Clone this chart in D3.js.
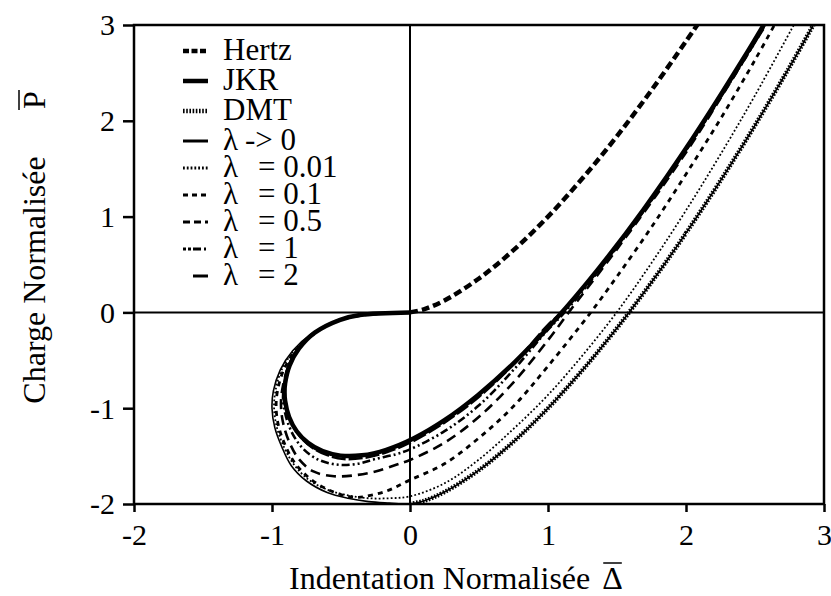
<!DOCTYPE html>
<html>
<head>
<meta charset="utf-8">
<script src="https://cdn.jsdelivr.net/npm/d3@7/dist/d3.min.js"></script>
<style>
  html, body { margin: 0; padding: 0; background: #fff; }
  svg { display: block; }
  svg text { font-family: "Liberation Serif", "DejaVu Serif", "Noto Serif", serif !important; fill: #000; }
</style>
</head>
<body>
<svg id="chart" width="831" height="596"></svg>
<script>
// Normalised indentation (Δ) vs normalised load (P) for contact models.
const xTicks = [-2, -1, 0, 1, 2, 3];
const yTicks = [-2, -1, 0, 1, 2, 3];

const hertz = [[0,0],[0.1,0.032],[0.25,0.125],[0.5,0.354],[0.75,0.65],[1.0,1.0],[1.25,1.40],[1.5,1.84],[1.75,2.32],[2.0,2.83],[2.1,3.04]];

const jkr = [[0,0],[-0.363,-0.027],[-0.506,-0.077],[-0.690,-0.211],[-0.804,-0.376],[-0.873,-0.556],[-0.905,-0.741],
  [-0.909,-0.833],[-0.905,-0.922],[-0.876,-1.092],[-0.821,-1.241],[-0.739,-1.362],[-0.633,-1.449],[-0.503,-1.495],
  [-0.349,-1.492],[-0.172,-1.434],[0.028,-1.314],[0.25,-1.125],[0.494,-0.861],[0.761,-0.516],[1.049,-0.083],
  [1.359,0.444],[1.691,1.072],[2.044,1.807],[2.418,2.655],[2.613,3.123]];

const dmt = [[0,-2],[0.1,-1.968],[0.25,-1.875],[0.5,-1.646],[0.75,-1.35],[1.0,-1.0],[1.25,-0.602],[1.5,-0.163],
  [1.75,0.315],[2.0,0.828],[2.25,1.375],[2.5,1.953],[2.75,2.56],[2.95,3.07]];

const lambda0 = [[0,0],[-0.35,-0.03],[-0.55,-0.10],[-0.72,-0.23],[-0.85,-0.40],[-0.94,-0.60],[-0.99,-0.82],[-1.0,-1.0],
  [-0.98,-1.2],[-0.93,-1.40],[-0.86,-1.60],[-0.75,-1.76],[-0.6,-1.88],[-0.45,-1.94],[-0.3,-1.975],[-0.15,-1.99],[0,-2.0],
  [0.1,-1.968],[0.25,-1.875],[0.5,-1.646],[0.75,-1.35],[1.0,-1.0],[1.25,-0.602],[1.5,-0.163],[1.75,0.315],[2.0,0.828],
  [2.25,1.375],[2.5,1.953],[2.75,2.56],[2.95,3.07]];

const lambda001 = [[0,0],[-0.35,-0.03],[-0.55,-0.10],[-0.71,-0.23],[-0.84,-0.40],[-0.93,-0.60],[-0.975,-0.82],[-0.985,-1.0],
  [-0.965,-1.2],[-0.915,-1.40],[-0.845,-1.58],[-0.74,-1.74],[-0.6,-1.85],[-0.45,-1.91],[-0.3,-1.94],[-0.15,-1.94],[0,-1.92],
  [0.25,-1.784],[0.5,-1.535],[0.75,-1.216],[1.0,-0.862],[1.25,-0.449],[1.5,0.005],[1.75,0.516],[2.0,1.065],[2.25,1.649],
  [2.5,2.265],[2.8,3.05]];

const lambda01 = [[0,0],[-0.35,-0.03],[-0.55,-0.10],[-0.70,-0.23],[-0.83,-0.40],[-0.915,-0.60],[-0.96,-0.82],[-0.97,-1.0],
  [-0.95,-1.2],[-0.90,-1.40],[-0.83,-1.58],[-0.72,-1.74],[-0.58,-1.86],[-0.45,-1.92],[-0.375,-1.93],[-0.18,-1.87],[0,-1.75],
  [0.25,-1.58],[0.5,-1.31],[0.75,-0.98],[1.0,-0.56],[1.31,0],[1.5,0.375],[1.75,0.89],[2.0,1.443],[2.25,2.02],[2.5,2.635],[2.66,3.05]];

const lambda05 = [[0,0],[-0.36,-0.03],[-0.51,-0.08],[-0.69,-0.21],[-0.81,-0.38],[-0.88,-0.56],[-0.92,-0.76],[-0.935,-0.95],
  [-0.92,-1.15],[-0.87,-1.37],[-0.8,-1.54],[-0.7,-1.66],[-0.55,-1.71],[-0.4,-1.70],[-0.25,-1.66],[-0.1,-1.59],[0,-1.54],
  [0.25,-1.36],[0.5,-1.09],[0.75,-0.73],[1.0,-0.29],[1.15,0],[1.5,0.66],[2.0,1.67],[2.5,2.82],[2.6,3.05]];

const lambda1 = [[0,0],[-0.36,-0.03],[-0.51,-0.08],[-0.69,-0.21],[-0.81,-0.38],[-0.88,-0.56],[-0.91,-0.75],[-0.92,-0.90],
  [-0.90,-1.08],[-0.85,-1.27],[-0.77,-1.43],[-0.66,-1.54],[-0.52,-1.59],[-0.38,-1.58],[-0.25,-1.53],[-0.1,-1.48],[0,-1.43],
  [0.25,-1.24],[0.5,-0.97],[0.75,-0.60],[1.0,-0.18],[1.12,0],[1.5,0.68],[2.0,1.69],[2.5,2.82],[2.59,3.05]];

const lambda2 = [[0,0],[-0.36,-0.03],[-0.51,-0.08],[-0.69,-0.21],[-0.81,-0.38],[-0.88,-0.56],[-0.91,-0.75],[-0.915,-0.88],
  [-0.90,-1.0],[-0.86,-1.15],[-0.80,-1.29],[-0.71,-1.41],[-0.6,-1.49],[-0.48,-1.53],[-0.34,-1.52],[-0.17,-1.46],[0,-1.36],
  [0.25,-1.15],[0.5,-0.88],[0.75,-0.54],[1.0,-0.13],[1.1,0.0],[1.5,0.70],[2.0,1.70],[2.5,2.83],[2.59,3.05]];

const legendSymbols = ["Hertz", "JKR", "DMT", "λ", "λ", "λ", "λ", "λ", "λ"];
const legendValues = ["", "", "", "-> 0", "= 0.01", "= 0.1", "= 0.5", "= 1", "= 2"];

// Stroke styles, in the same order as the legend
const styles = [
  { w: 4.5, dash: "8,4" },
  { w: 4.5, dash: null },
  { w: 4.5, dash: "1.6,1.6" },
  { w: 1.6, dash: null },
  { w: 1.8, dash: "1.8,2.2" },
  { w: 2.8, dash: "5,5" },
  { w: 2.6, dash: "10,6" },
  { w: 2.6, dash: "8,3,2,3,2,3" },
  { w: 2.6, dash: "14,3" }
];
const seriesData = [hertz, jkr, dmt, lambda0, lambda001, lambda01, lambda05, lambda1, lambda2];

const svg = d3.select("#chart");
const plotL = 134, plotR = 824, plotT = 25, plotB = 504;

const x = d3.scaleLinear().domain([-2, 3]).range([plotL, plotR]);
const y = d3.scaleLinear().domain([-2, 3]).range([plotB, plotT]);

svg.append("defs").append("clipPath").attr("id", "plotclip")
  .append("rect").attr("x", plotL).attr("y", plotT).attr("width", plotR - plotL).attr("height", plotB - plotT);

// Zero lines
svg.append("line").attr("x1", plotL).attr("x2", plotR).attr("y1", y(0)).attr("y2", y(0))
  .attr("stroke", "#000").attr("stroke-width", 2);
svg.append("line").attr("x1", x(0)).attr("x2", x(0)).attr("y1", plotT).attr("y2", plotB)
  .attr("stroke", "#000").attr("stroke-width", 2);

// Curves
const line = d3.line().x(d => x(d[0])).y(d => y(d[1])).curve(d3.curveCatmullRom.alpha(0.5));
const drawOrder = [3, 4, 5, 6, 7, 8, 2, 1, 0];
const curves = svg.append("g").attr("clip-path", "url(#plotclip)");
drawOrder.forEach(i => {
  curves.append("path").datum(seriesData[i]).attr("d", line)
    .attr("fill", "none").attr("stroke", "#000")
    .attr("stroke-width", styles[i].w)
    .attr("stroke-dasharray", styles[i].dash);
});

// Axes
const fmt = d => d < 0 ? "-" + Math.abs(d) : String(d);
const xAxis = d3.axisBottom(x).tickValues(xTicks).tickSize(8).tickPadding(6).tickFormat(fmt);
const yAxis = d3.axisLeft(y).tickValues(yTicks).tickSize(11).tickPadding(8).tickFormat(fmt);

const gx = svg.append("g").attr("transform", `translate(0,${plotB})`).call(xAxis);
const gy = svg.append("g").attr("transform", `translate(${plotL},0)`).call(yAxis);
[gx, gy].forEach(g => {
  g.attr("font-family", null).attr("font-size", null);
  g.select(".domain").remove();
  g.selectAll(".tick line").attr("stroke", "#000").attr("stroke-width", 2.5);
  g.selectAll(".tick text").style("font-size", "30px").attr("fill", "#000");
});
gx.selectAll(".tick text").attr("dy", "0.9em");
gy.selectAll(".tick text").attr("dy", "0.33em");

// Frame
svg.append("rect").attr("x", plotL).attr("y", plotT).attr("width", plotR - plotL).attr("height", plotB - plotT)
  .attr("fill", "none").attr("stroke", "#000").attr("stroke-width", 2.5);

// Axis titles
const xt = svg.append("text").attr("x", 289).attr("y", 589).style("font-size", "32px");
xt.append("tspan").text("Indentation Normalisée");
const xDelta = xt.append("tspan").attr("dx", 12).text("Δ");
const dBox = xDelta.node().getExtentOfChar(0);
svg.append("line").attr("x1", dBox.x + 1).attr("x2", dBox.x + dBox.width - 1)
  .attr("y1", 563).attr("y2", 563).attr("stroke", "#000").attr("stroke-width", 1.5);

const yt = svg.append("g").attr("transform", "translate(45,0) rotate(-90)");
yt.append("text").attr("x", -280).attr("y", 0).style("font-size", "32px").attr("text-anchor", "middle").text("Charge Normalisée");
yt.append("text").attr("x", -100).attr("y", 0).style("font-size", "32px").attr("text-anchor", "middle").text("P");
svg.append("line").attr("x1", 19).attr("x2", 19).attr("y1", 90).attr("y2", 110).attr("stroke", "#000").attr("stroke-width", 1.5);

// Legend
const legendBase = [60, 90, 120, 150, 177, 204, 231, 258, 285];
const legendDash = ["6,2.5", null, "1.6,1.6", null, "1.8,2", "5,4", "7,4", "3,2,3,2,8", null];
const lg = svg.append("g");
legendSymbols.forEach((s, i) => {
  const by = legendBase[i];
  lg.append("line").attr("x1", i === 8 ? 193 : 183).attr("x2", 208)
    .attr("y1", by - 9).attr("y2", by - 9)
    .attr("stroke", "#000").attr("stroke-width", Math.max(styles[i].w, 3))
    .attr("stroke-dasharray", legendDash[i]);
  const t = lg.append("text").attr("y", by).style("font-size", "31px");
  t.append("tspan").attr("x", 223).text(s);
  if (legendValues[i]) {
    t.append("tspan").attr("x", i === 3 ? 245 : 258).text(legendValues[i]);
  }
});
</script>
</body>
</html>
